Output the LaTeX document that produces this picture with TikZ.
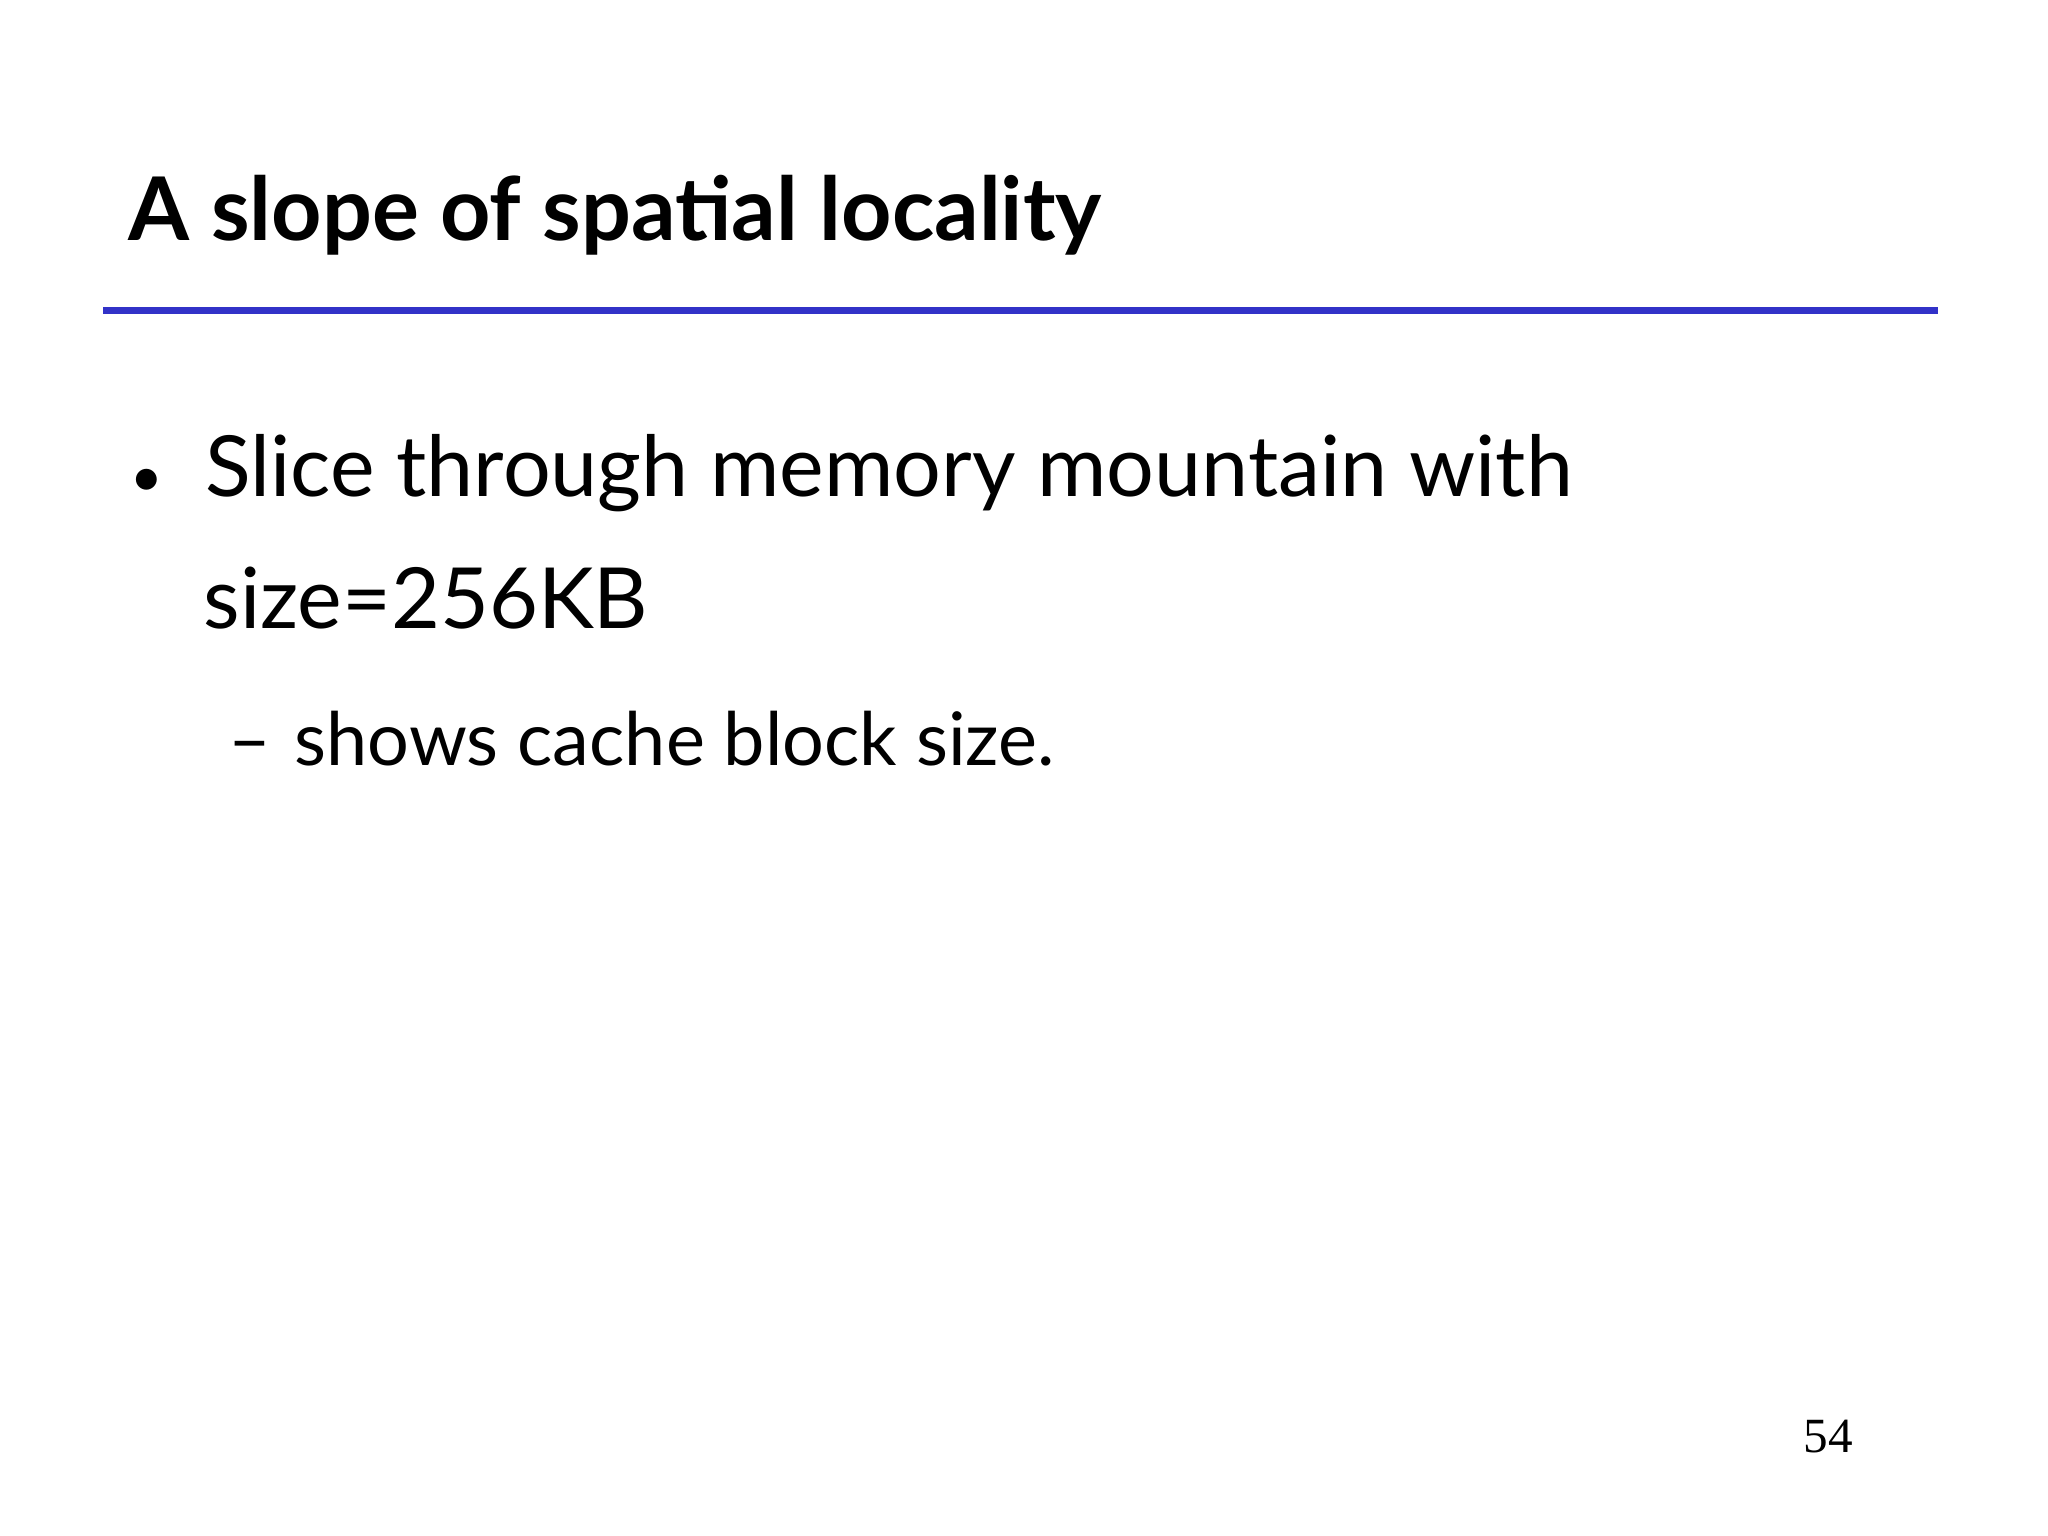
\documentclass[tikz,border=0pt]{standalone}
\usepackage{fontspec}
\setmainfont{Lato}
\newfontfamily\numfont{Liberation Serif}
\definecolor{rule}{RGB}{50,50,200}
\begin{document}
\begin{tikzpicture}[txt/.style={anchor=base west,inner sep=0pt}]
\useasboundingbox[fill=white] (0,0) rectangle (20.48,15.36);
\node[txt,font=\fontsize{25}{30}\selectfont\bfseries] (title) at (1.28,12.95) {A slope of spatial locality};
\draw[rule,line width=0.07cm] (1.03,12.25) -- (19.38,12.25);
\node[txt,font=\fontsize{16}{20}\selectfont] (b1) at (1.30,10.39) {•};
\node[txt,font=\fontsize{24}{29}\selectfont] (l1) at (2.05,10.39) {Slice through memory mountain with};
\node[txt,font=\fontsize{24}{29}\selectfont] (l2) at (2.03,9.07) {size=256KB};
\node[txt,font=\fontsize{21}{25}\selectfont] (d1) at (2.28,7.70) {–};
\node[txt,font=\fontsize{21}{25}\selectfont] (s1) at (2.94,7.70) {shows cache block size.};
\node[anchor=base,inner sep=0pt,font=\numfont\fontsize{14}{17}\selectfont] (pn) at (18.28,0.83) {54};
\end{tikzpicture}
\end{document}
